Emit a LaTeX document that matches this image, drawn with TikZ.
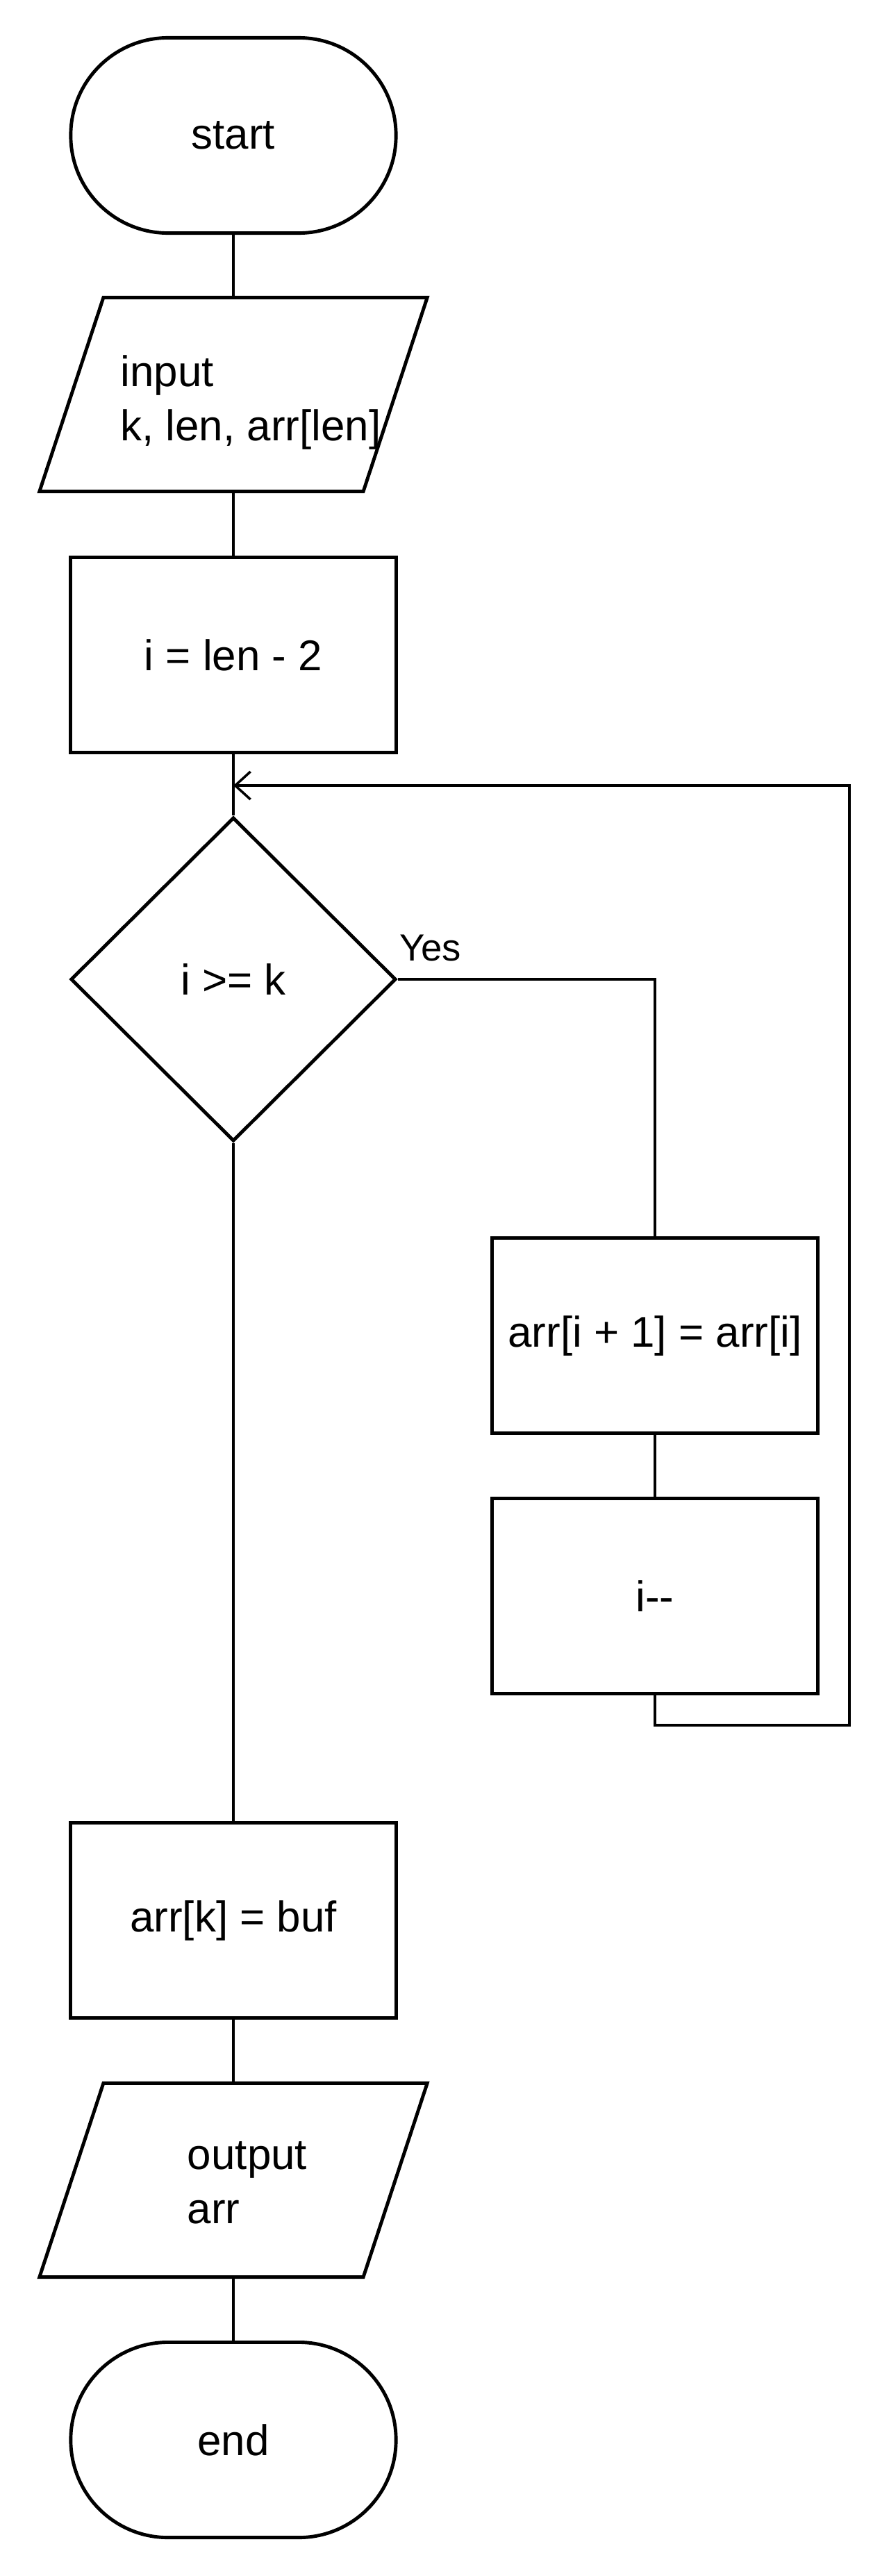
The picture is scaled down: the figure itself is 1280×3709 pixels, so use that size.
\documentclass[tikz,border=0pt]{standalone}
\usepackage{fontspec}
\setmainfont{Liberation Sans}
\usetikzlibrary{shapes.geometric,arrows.meta}

\begin{document}
\begin{tikzpicture}[x=0.01cm,y=-0.01cm,line width=1.4pt,
    font=\fontsize{17.6}{22}\selectfont,
    term/.style={draw,rectangle,rounded corners=1.4cm,minimum width=4.68cm,minimum height=2.81cm},
    proc/.style={draw,rectangle,minimum width=4.68cm,minimum height=2.81cm},
    io/.style={rectangle,outer sep=0pt,minimum width=4.66cm,minimum height=2.79cm,
        append after command={\pgfextra{\draw ([xshift=0.46cm]\tikzlastnode.north west)
            -- ([xshift=0.46cm]\tikzlastnode.north east)
            -- ([xshift=-0.46cm]\tikzlastnode.south east)
            -- ([xshift=-0.46cm]\tikzlastnode.south west) -- cycle;}}},
    test/.style={draw,diamond,minimum width=4.68cm,minimum height=4.66cm,inner sep=0pt},
    flow/.style={-{Straight Barb[length=0.22cm,width=0.4cm,line width=1pt]}}]
    \useasboundingbox (0,0) rectangle (1280,3709);

    % Main column
    \node[term] (start) at (336,195) {start};
    \node[io] (in1) at (336,568) {\hspace*{0.5cm}\begin{tabular}{@{}l@{}}\rule{0pt}{0.78cm}input\\k, len, arr[len]\end{tabular}};
    \node[proc] (init) at (336,943) {i = len - 2};
    \node[test] (cond) at (336,1410) {i >= k};
    \node[proc] (assign) at (336,2765) {arr[k] = buf};
    \node[io] (out1) at (336,3139) {\hspace*{0.4cm}\begin{tabular}{@{}l@{}}\rule{0pt}{0.7cm}output\\arr\end{tabular}};
    \node[term] (stop) at (336,3513) {end};

    % Loop body
    \node[proc] (body) at (943,1923) {arr[i + 1] = arr[i]};
    \node[proc] (dec) at (943,2298) {i{-}{-}};

    \coordinate (loop) at (336,1131);
    \coordinate (corner) at (1223,2484);

    % Connectors
    \draw (start) -- (in1);
    \draw (in1) -- (init);
    \draw (init) -- (cond);
    \draw (cond.east) -| (body.north);
    \node[anchor=south west,inner sep=0pt,yshift=0.24cm,font=\fontsize{15.5}{18}\selectfont] (yes) at (cond.east) {Yes};
    \draw (body) -- (dec);
    \draw[flow] (dec.south) |- (corner) |- (loop);
    \draw (cond.south) -- (assign.north);
    \draw (assign) -- (out1);
    \draw (out1) -- (stop);
\end{tikzpicture}
\end{document}
